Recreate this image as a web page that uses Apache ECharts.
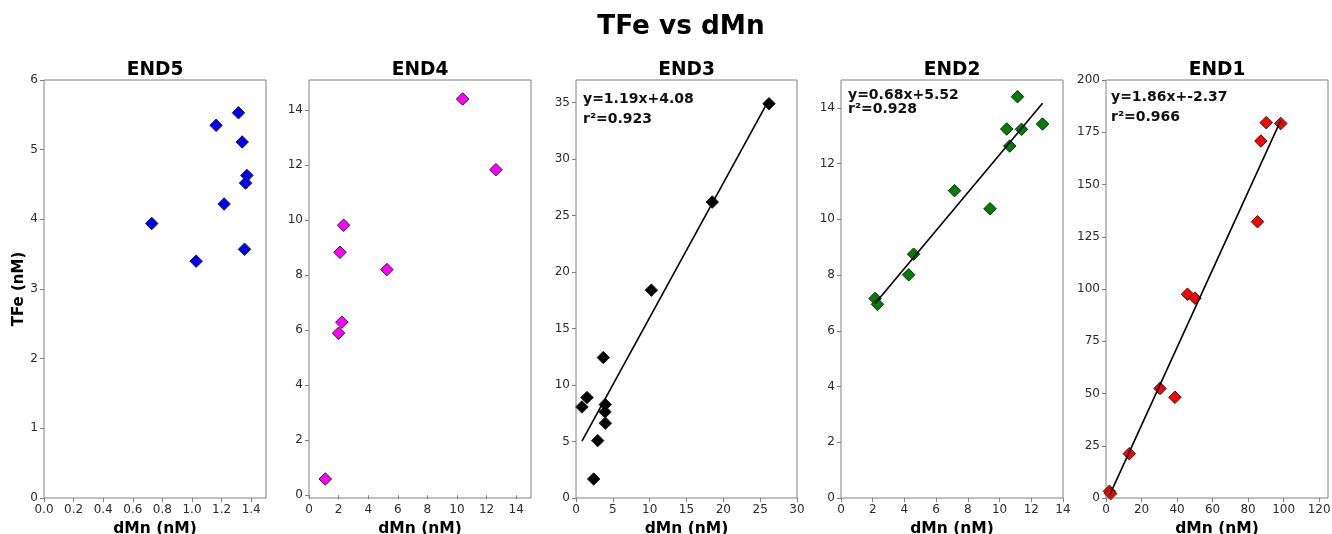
<!DOCTYPE html>
<html>
<head>
<meta charset="utf-8">
<script src="https://cdn.jsdelivr.net/npm/echarts@6/dist/echarts.min.js"></script>
<style>html,body{margin:0;padding:0;background:#fff}#c{width:1332px;height:534px}</style>
</head>
<body>
<div id="c"></div>
<script>
// ---- data ----
const panelNames = ['END5', 'END4', 'END3', 'END2', 'END1'];
const panelColors = ['#0000ff', '#ff00ff', '#000000', '#008000', '#ff0000'];

const end5X = [0.728, 1.028, 1.163, 1.217, 1.314, 1.339, 1.371, 1.362, 1.355];
const end5Y = [3.94, 3.40, 5.35, 4.22, 5.53, 5.11, 4.63, 4.52, 3.57];

const end4X = [1.10, 2.00, 2.22, 2.09, 2.34, 5.26, 10.38, 12.63];
const end4Y = [0.59, 5.89, 6.29, 8.83, 9.81, 8.20, 14.40, 11.83];

const end3X = [0.81, 1.49, 2.40, 2.94, 3.71, 3.98, 3.94, 3.98, 10.23, 18.5, 26.2];
const end3Y = [8.06, 8.89, 1.68, 5.08, 12.43, 8.27, 7.62, 6.62, 18.40, 26.2, 34.9];

const end2X = [2.15, 2.30, 4.27, 4.58, 7.16, 9.40, 10.45, 10.64, 11.13, 11.38, 12.71];
const end2Y = [7.16, 6.95, 8.01, 8.75, 11.03, 10.38, 13.24, 12.63, 14.40, 13.23, 13.42];

const end1X = [1.9, 2.6, 13.1, 30.4, 38.8, 45.9, 50.1, 85.3, 87.2, 90.2, 98.4];
const end1Y = [3.2, 2.1, 21.2, 52.4, 48.2, 97.5, 95.6, 132.2, 170.8, 179.6, 179.2];

// regression fits shown on the chart (slope, intercept, r2) ; null = no fit
const fitSlope = [null, null, 1.19, 0.68, 1.86];
const fitIntercept = [null, null, 4.08, 5.52, -2.37];
const fitR2 = [null, null, '0.923', '0.928', '0.966'];
const fitEqText = [null, null, 'y=1.19x+4.08', 'y=0.68x+5.52', 'y=1.86x+-2.37'];

// tick values
const end5XTicks = [0, 0.2, 0.4, 0.6, 0.8, 1.0, 1.2, 1.4];
const end5YTicks = [0, 1, 2, 3, 4, 5, 6];
const end4XTicks = [0, 2, 4, 6, 8, 10, 12, 14];
const end4YTicks = [0, 2, 4, 6, 8, 10, 12, 14];
const end3XTicks = [0, 5, 10, 15, 20, 25, 30];
const end3YTicks = [0, 5, 10, 15, 20, 25, 30, 35];
const end2XTicks = [0, 2, 4, 6, 8, 10, 12, 14];
const end2YTicks = [0, 2, 4, 6, 8, 10, 12, 14];
const end1XTicks = [0, 20, 40, 60, 80, 100, 120];
const end1YTicks = [0, 25, 50, 75, 100, 125, 150, 175, 200];

// axis ranges
const xRanges = [[0, 1.5], [0, 15], [0, 30], [0, 14], [0, 125]];
const yRanges = [[0, 6], [-0.1, 15.09], [0, 37], [0, 15], [0, 200]];

const mainTitle = 'TFe vs dMn';
const xName = 'dMn (nM)';
const yName = 'TFe (nM)';

// ---- layout ----
const FONT = '"DejaVu Sans", sans-serif';
const gLeft = [44, 309, 576, 841, 1106];
const gWidth = [222, 222, 221, 222, 222];
const gTop = 80, gHeight = 418;
const annOffX = [7, 7, 7, 7, 5];
const annY1 = [0, 0, 99, 95.5, 97];
const annY2 = [0, 0, 119.5, 109.5, 117];

const xs = [end5X, end4X, end3X, end2X, end1X];
const ys = [end5Y, end4Y, end3Y, end2Y, end1Y];
const xTicks = [end5XTicks, end4XTicks, end3XTicks, end2XTicks, end1XTicks];
const yTicks = [end5YTicks, end4YTicks, end3YTicks, end2YTicks, end1YTicks];

const grids = [], xAxes = [], yAxes = [], series = [], graphics = [];
const tickColor = '#2b2b2b';
const spineColor = '#808080';

graphics.push({
  type: 'text', x: 681, y: 27,
  style: { text: mainTitle, font: 'bold 26.3px ' + FONT, fill: '#000', align: 'center', verticalAlign: 'middle' }
});

for (let i = 0; i < 5; i++) {
  grids.push({ left: gLeft[i], top: gTop, width: gWidth[i], height: gHeight, show: true,
    outerBoundsMode: 'none', containLabel: false,
    borderColor: spineColor, borderWidth: 1, backgroundColor: 'transparent' });
  const fmt = i === 0 ? (v => Number(v).toFixed(1)) : (v => String(Math.round(v * 100) / 100));
  xAxes.push({
    type: 'value', gridIndex: i, min: xRanges[i][0], max: xRanges[i][1],
    name: xName, nameLocation: 'middle', nameGap: 19,
    nameTextStyle: { fontFamily: FONT, fontWeight: 'bold', fontSize: 15.5, color: '#000' },
    axisLine: { show: false },
    axisTick: { show: true, length: 4, lineStyle: { color: spineColor }, customValues: xTicks[i] },
    axisLabel: { fontFamily: FONT, fontSize: 12, color: tickColor, margin: 6, customValues: xTicks[i], formatter: fmt },
    splitLine: { show: false }
  });
  yAxes.push({
    type: 'value', gridIndex: i, min: yRanges[i][0], max: yRanges[i][1],
    name: i === 0 ? yName : '', nameLocation: 'middle', nameGap: 17,
    nameTextStyle: { fontFamily: FONT, fontWeight: 'bold', fontSize: 15, color: '#000' },
    axisLine: { show: false },
    axisTick: { show: true, length: 4, lineStyle: { color: spineColor }, customValues: yTicks[i] },
    axisLabel: { fontFamily: FONT, fontSize: 12, color: tickColor, margin: 6, customValues: yTicks[i] },
    splitLine: { show: false }
  });
  series.push({
    type: 'scatter', xAxisIndex: i, yAxisIndex: i,
    data: xs[i].map((x, k) => [x, ys[i][k]]),
    symbol: 'diamond', symbolSize: 12.5,
    itemStyle: { color: panelColors[i], borderColor: '#222', borderWidth: 1, opacity: 1 },
    z: 2
  });
  if (fitSlope[i] !== null) {
    const x0 = Math.min(...xs[i]), x1 = Math.max(...xs[i]);
    series.push({
      type: 'line', xAxisIndex: i, yAxisIndex: i,
      data: [[x0, fitSlope[i] * x0 + fitIntercept[i]], [x1, fitSlope[i] * x1 + fitIntercept[i]]],
      showSymbol: false, symbol: 'none', lineStyle: { color: '#000', width: 1.6 }, z: 3, silent: true
    });
    graphics.push({
      type: 'text', x: gLeft[i] + annOffX[i], y: annY1[i],
      style: { text: fitEqText[i], font: 'bold 14px ' + FONT, fill: '#111', align: 'left', verticalAlign: 'middle' }
    });
    graphics.push({
      type: 'text', x: gLeft[i] + annOffX[i], y: annY2[i],
      style: { text: 'r\u00b2=' + fitR2[i], font: 'bold 14px ' + FONT, fill: '#111', align: 'left', verticalAlign: 'middle' }
    });
  }
  graphics.push({
    type: 'text', x: gLeft[i] + gWidth[i] / 2, y: 70,
    style: { text: panelNames[i], font: 'bold 18.6px ' + FONT, fill: '#000', align: 'center', verticalAlign: 'middle' }
  });
}

const chart = echarts.init(document.getElementById('c'), null, { renderer: 'canvas' });
chart.setOption({
  animation: false,
  backgroundColor: '#fff',
  grid: grids, xAxis: xAxes, yAxis: yAxes, series: series,
  graphic: { elements: graphics }
});
</script>
</body>
</html>
